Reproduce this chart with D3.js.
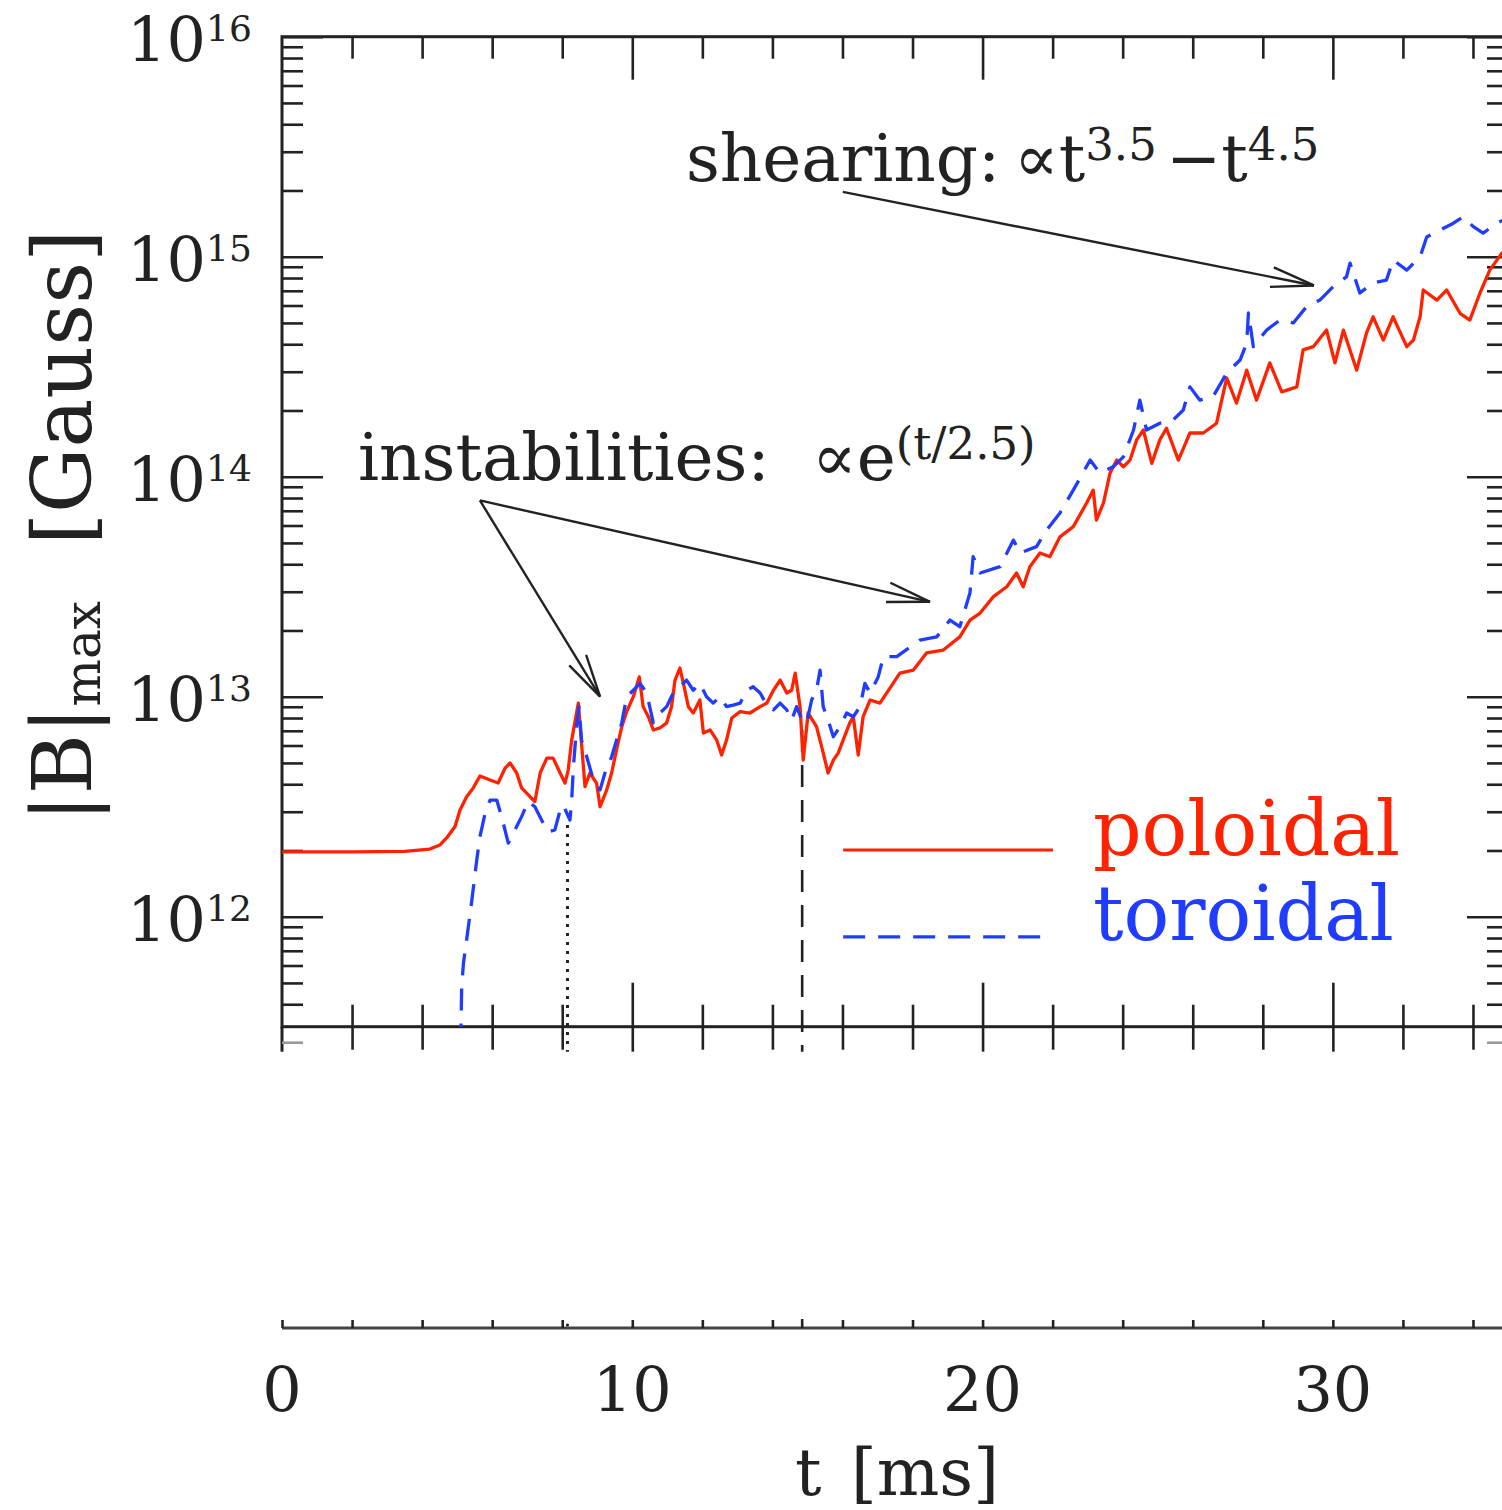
<!DOCTYPE html>
<html><head><meta charset="utf-8">
<script src="https://cdn.jsdelivr.net/npm/d3@7"></script>
<style>html,body{margin:0;padding:0;background:#fff;} svg{display:block;font-family:"DejaVu Serif",serif;}</style>
</head><body><svg id="c" width="1502" height="1510"></svg>
<script>
// ---- data (t in ms, |B|max in Gauss) ----
const poloidalT=[0,2,3.5,4.22,4.51,4.70,4.94,5.08,5.27,5.46,5.65,5.80,5.94,6.17,6.37,6.51,6.70,6.84,7.08,7.22,7.37,7.56,7.74,7.94,8.08,8.17,8.27,8.46,8.55,8.65,8.79,8.98,9.08,9.27,9.41,9.55,9.70,9.84,10.03,10.20,10.31,10.46,10.60,10.79,10.98,11.12,11.22,11.36,11.46,11.60,11.74,11.93,12.03,12.22,12.41,12.55,12.69,12.84,13.08,13.36,13.65,13.84,14.03,14.22,14.41,14.55,14.65,14.79,14.88,15.02,15.26,15.45,15.59,15.74,15.88,16.02,16.21,16.31,16.45,16.59,16.79,17.07,17.64,18.02,18.40,18.88,19.35,19.64,19.93,20.31,20.69,20.97,21.16,21.35,21.64,21.92,22.21,22.59,22.97,23.16,23.25,23.45,23.64,23.83,24.02,24.21,24.40,24.59,24.83,25.06,25.25,25.59,25.92,26.30,26.68,26.97,27.25,27.54,27.82,28.20,28.54,28.97,29.15,29.44,29.82,30.06,30.30,30.68,30.96,31.15,31.44,31.72,32.11,32.30,32.49,32.58,32.97,33.25,33.63,33.91,34.20,34.48,34.83,35.0];
const poloidalB=[1.97e12,1.97e12,1.98e12,2.03e12,2.12e12,2.28e12,2.57e12,3.05e12,3.51e12,3.85e12,4.36e12,4.27e12,4.18e12,4.05e12,4.74e12,5.00e12,4.50e12,3.85e12,3.51e12,3.34e12,4.50e12,5.26e12,5.26e12,4.50e12,4.05e12,4.64e12,6.35e12,9.35e12,6.16e12,3.90e12,4.50e12,4.05e12,3.16e12,3.77e12,4.50e12,5.73e12,7.31e12,8.55e12,1.00e13,1.23e13,9.01e12,8.11e12,7.06e12,7.21e12,7.60e12,9.01e12,1.19e13,1.35e13,1.15e13,9.01e12,8.43e12,9.66e12,6.84e12,7.06e12,6.35e12,5.43e12,6.35e12,8.00e12,8.55e12,8.43e12,9.01e12,9.35e12,1.07e13,1.19e13,1.04e13,1.07e13,1.28e13,9.01e12,5.15e12,8.43e12,7.31e12,5.55e12,4.50e12,5.15e12,5.55e12,6.35e12,7.60e12,8.11e12,5.43e12,8.11e12,9.66e12,9.35e12,1.28e13,1.32e13,1.58e13,1.63e13,1.87e13,2.23e13,2.40e13,2.85e13,3.16e13,3.65e13,3.16e13,3.90e13,4.50e13,4.33e13,5.33e13,5.93e13,7.59e13,8.69e13,6.35e13,7.59e13,1.04e14,1.19e14,1.11e14,1.19e14,1.47e14,1.63e14,1.15e14,1.47e14,1.66e14,1.19e14,1.58e14,1.58e14,1.75e14,2.81e14,2.16e14,3.05e14,2.23e14,3.29e14,2.43e14,2.56e14,3.77e14,3.90e14,4.64e14,3.29e14,4.64e14,3.05e14,4.50e14,5.33e14,4.18e14,5.33e14,3.90e14,4.18e14,5.33e14,7.06e14,6.35e14,7.06e14,5.53e14,5.15e14,6.84e14,8.69e14,1.04e15,1.07e15];
const toroidalT=[5.10,5.13,5.18,5.27,5.42,5.56,5.65,5.80,5.94,6.13,6.27,6.46,6.65,6.84,7.03,7.22,7.41,7.60,7.79,7.94,8.03,8.13,8.22,8.27,8.32,8.41,8.48,8.55,8.70,8.89,9.08,9.22,9.41,9.55,9.70,9.84,10.03,10.22,10.41,10.60,10.79,10.98,11.17,11.36,11.55,11.74,11.93,12.12,12.31,12.50,12.69,12.88,13.08,13.27,13.45,13.65,13.84,14.03,14.22,14.41,14.55,14.69,14.84,14.98,15.12,15.26,15.36,15.45,15.59,15.74,15.93,16.12,16.31,16.50,16.64,16.79,17.02,17.17,17.55,18.21,18.69,19.07,19.35,19.64,19.73,19.93,20.50,20.88,21.07,21.54,21.83,22.21,22.59,23.07,23.35,23.73,24.02,24.31,24.49,24.68,25.06,25.44,25.73,25.92,26.20,26.58,26.97,27.35,27.54,27.59,27.73,28.11,28.49,28.87,29.25,29.63,30.01,30.39,30.49,30.77,31.15,31.53,31.72,32.11,32.49,32.68,33.06,33.44,33.72,34.01,34.29,34.68,35.0];
const toroidalB=[2.6e11,4.81e11,6.16e11,7.83e11,1.19e12,1.81e12,2.31e12,2.96e12,3.39e12,3.39e12,2.85e12,2.16e12,2.48e12,2.85e12,3.34e12,3.16e12,2.75e12,2.43e12,2.48e12,3.05e12,3.22e12,2.96e12,2.75e12,3.39e12,4.81e12,7.31e12,9.01e12,6.35e12,5.33e12,4.18e12,3.77e12,4.50e12,5.33e12,6.35e12,7.60e12,1.00e13,1.07e13,1.15e13,1.04e13,7.60e12,8.43e12,9.01e12,1.04e13,1.11e13,1.19e13,1.07e13,1.15e13,1.00e13,9.35e12,1.00e13,9.01e12,9.16e12,9.35e12,1.07e13,1.11e13,1.04e13,9.16e12,8.71e12,9.35e12,8.71e12,7.83e12,9.01e12,7.83e12,7.60e12,9.66e12,1.07e13,1.32e13,9.01e12,7.83e12,6.58e12,7.31e12,8.43e12,8.11e12,9.01e12,1.15e13,1.04e13,1.23e13,1.52e13,1.52e13,1.81e13,1.87e13,2.23e13,2.08e13,2.96e13,4.33e13,3.65e13,3.90e13,5.15e13,4.50e13,4.81e13,5.73e13,6.84e13,8.69e13,1.19e14,1.04e14,1.11e14,1.23e14,1.63e14,2.23e14,1.63e14,1.75e14,1.81e14,2.01e14,2.56e14,2.23e14,2.31e14,2.96e14,3.39e14,4.05e14,5.55e14,3.90e14,4.64e14,5.15e14,5.00e14,5.93e14,6.35e14,7.31e14,8.11e14,9.35e14,6.84e14,7.60e14,7.83e14,9.66e14,8.69e14,9.98e14,1.23e15,1.32e15,1.42e15,1.52e15,1.37e15,1.28e15,1.42e15,1.50e15];
const xTickLabels=[0,10,20,30];
const yTickExponents=[12,13,14,15,16];
const seriesNames=["poloidal","toroidal"];
const markerTimes=[8.15,14.85];

// ---- scales ----
const svg=d3.select("#c");
const x=d3.scaleLinear().domain([0,35]).range([282,1508]);
const y=d3.scaleLog().domain([Math.pow(10,11.5),1e16]).range([1026.7,36.7]);
const X0=x(0),X1=x(35),Y0=y(1e16),Y1=y(Math.pow(10,11.5));
const INK="#222", RED="#ff2200", BLUE="#1f3cff";

svg.append("defs").append("clipPath").attr("id","clip").append("rect")
  .attr("x",X0).attr("y",Y0).attr("width",X1-X0).attr("height",Y1-Y0);

// ---- ticks ----
const minorX=d3.range(2,35,2).filter(v=>v%10!==0);
const majorX=[10,20,30];
const minorY=[],majorY=[];
for(let k=11;k<=16;k++){ if(k>=12) majorY.push(Math.pow(10,k));
  for(let m=2;m<=9;m++){const v=m*Math.pow(10,k); if(v>=Math.pow(10,11.5)&&v<1e16) minorY.push(v);} }
function styl(g){g.select(".domain").remove(); g.selectAll(".tick line").attr("stroke",INK).attr("stroke-width",2.6);}
function ax(gen,vals,size,tr){svg.append("g").attr("transform",tr).call(gen.tickValues(vals).tickSize(size).tickFormat("")).call(styl);}
ax(d3.axisBottom(x),minorX,22,`translate(0,${Y0})`);
ax(d3.axisBottom(x),majorX,43,`translate(0,${Y0})`);
ax(d3.axisTop(x),minorX,22,`translate(0,${Y1})`);
ax(d3.axisTop(x),majorX,44,`translate(0,${Y1})`);
ax(d3.axisBottom(x),minorX,23,`translate(0,${Y1})`);
ax(d3.axisBottom(x),majorX,25,`translate(0,${Y1})`);
ax(d3.axisRight(y),minorY,21,`translate(${X0},0)`);
ax(d3.axisRight(y),majorY,41,`translate(${X0},0)`);
ax(d3.axisLeft(y),minorY,21,`translate(${X1},0)`);
ax(d3.axisLeft(y),majorY,41,`translate(${X1},0)`);

// frame
svg.append("rect").attr("x",X0).attr("y",Y0).attr("width",X1-X0).attr("height",Y1-Y0)
  .attr("fill","none").attr("stroke",INK).attr("stroke-width",3);
svg.append("line").attr("x1",X0).attr("x2",X0).attr("y1",Y1).attr("y2",Y1+25).attr("stroke",INK).attr("stroke-width",3);
svg.append("line").attr("x1",X0).attr("x2",X0+21).attr("y1",Y1+16).attr("y2",Y1+16).attr("stroke","#999").attr("stroke-width",2.6);
svg.append("line").attr("x1",X1).attr("x2",X1-21).attr("y1",Y1+16).attr("y2",Y1+16).attr("stroke","#999").attr("stroke-width",2.6);

// y tick labels
const yl=svg.append("g").selectAll("g").data(yTickExponents).join("g");
yl.append("text").attr("x",206).attr("y",e=>y(Math.pow(10,e))+24).attr("text-anchor","end")
  .attr("font-size",62).attr("fill",INK).text("10");
yl.append("text").attr("x",206).attr("y",e=>y(Math.pow(10,e))+4).attr("text-anchor","start")
  .attr("font-size",36).attr("fill",INK).text(e=>e);

// lower axis
const LY=1328;
svg.append("line").attr("x1",X0).attr("x2",X1).attr("y1",LY).attr("y2",LY).attr("stroke","#444").attr("stroke-width",3);
ax(d3.axisTop(x),d3.range(0,36,2),8,`translate(0,${LY})`);
svg.append("g").selectAll("text").data(xTickLabels).join("text")
  .attr("x",d=>x(d)).attr("y",LY+83).attr("text-anchor","middle").attr("font-size",62).attr("fill",INK).text(d=>d);
const xt=svg.append("text").attr("y",1495).attr("font-size",66).attr("fill",INK);
xt.append("tspan").attr("x",795).text("t");
xt.append("tspan").attr("x",851).text("[ms]");
const yt=svg.append("text").attr("transform","translate(91,822) rotate(-90)").attr("font-size",82).attr("fill",INK);
yt.append("tspan").text("|B|");
yt.append("tspan").attr("font-size",50).attr("dy",9).text("max");
yt.append("tspan").attr("dx",56).attr("dy",-9).text("[Gauss]");

// vertical markers
svg.append("line").attr("x1",x(markerTimes[0])).attr("x2",x(markerTimes[0]))
  .attr("y1",y(2.61e12)).attr("y2",Y1+25).attr("stroke",INK).attr("stroke-width",3).attr("stroke-dasharray","3,6");
svg.append("line").attr("x1",x(markerTimes[1])).attr("x2",x(markerTimes[1]))
  .attr("y1",y(7.06e12)).attr("y2",Y1+25).attr("stroke",INK).attr("stroke-width",2.6).attr("stroke-dasharray","22,13");
svg.append("line").attr("x1",x(markerTimes[1])).attr("x2",x(markerTimes[1]))
  .attr("y1",LY-9).attr("y2",LY).attr("stroke",INK).attr("stroke-width",2.6);
svg.append("circle").attr("cx",x(markerTimes[0])).attr("cy",LY-3).attr("r",1.6).attr("fill",INK);

// curves
const line=d3.line().x(d=>x(d[0])).y(d=>y(d[1]));
const pol=poloidalT.map((t,i)=>[t,poloidalB[i]]);
const tor=toroidalT.map((t,i)=>[t,toroidalB[i]]);
const cg=svg.append("g").attr("clip-path","url(#clip)");
cg.append("path").datum(pol).attr("d",line).attr("fill","none").attr("stroke",RED).attr("stroke-width",3.3).attr("stroke-linejoin","round");
cg.append("path").datum(tor).attr("d",line).attr("fill","none").attr("stroke",BLUE).attr("stroke-width",3.3).attr("stroke-dasharray","22,13").attr("stroke-linejoin","round");

// legend
const legY=[2.01e12,8.09e11], legTextY=[1.91e12,7.83e11];
[RED,BLUE].forEach((c,i)=>{
  svg.append("line").attr("x1",x(16.02)).attr("x2",x(22.01)).attr("y1",y(legY[i])).attr("y2",y(legY[i]))
    .attr("stroke",c).attr("stroke-width",3.2).attr("stroke-dasharray",i?"22,13":null);
  svg.append("text").attr("x",x(23.15)).attr("y",y(legTextY[i])).attr("font-size",76).attr("fill",c).text(seriesNames[i]);
});

// annotations
function arrow(t1,b1,t2,b2){
  const x1=x(t1),y1=y(b1),x2=x(t2),y2=y(b2);
  const a=Math.atan2(y2-y1,x2-x1), L=44, h=13*Math.PI/180;
  const g=svg.append("g").attr("stroke",INK).attr("stroke-width",2.4).attr("fill","none");
  g.append("line").attr("x1",x1).attr("y1",y1).attr("x2",x2).attr("y2",y2);
  [h,-h].forEach(s=>g.append("line").attr("x1",x2).attr("y1",y2)
    .attr("x2",x2-L*Math.cos(a+s)).attr("y2",y2-L*Math.sin(a+s)));
}
arrow(5.65,7.8e13,9.08,1.0e13);
arrow(5.65,7.8e13,18.50,2.7e13);
arrow(16.01,1.97e15,29.46,7.4e14);

const a1=svg.append("text").attr("x",x(2.17)).attr("y",y(9.66e13)).attr("font-size",66).attr("fill",INK);
a1.append("tspan").text("instabilities:");
a1.append("tspan").attr("x",812).text("\u221De");
a1.append("tspan").attr("font-size",45).attr("dy",-21).text("(t/2.5)");
const a2=svg.append("text").attr("x",x(11.53)).attr("y",y(2.21e15)).attr("font-size",66).attr("fill",INK);
a2.append("tspan").text("shearing:");
a2.append("tspan").attr("x",1014).text("\u221Dt");
a2.append("tspan").attr("font-size",45).attr("dy",-21).text("3.5");
a2.append("tspan").attr("x",1166).attr("dy",21).text("\u2212t");
a2.append("tspan").attr("font-size",45).attr("dy",-21).text("4.5");
</script></body></html>
